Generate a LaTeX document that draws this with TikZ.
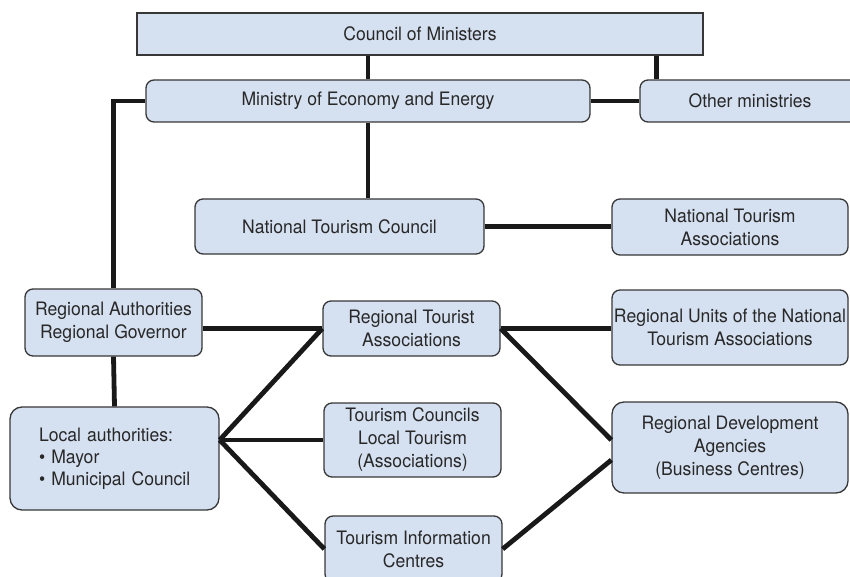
\documentclass[tikz,border=0pt]{standalone}
\usepackage{fontspec}
\setmainfont{TeX Gyre Heros}[FakeStretch=0.95]
\definecolor{boxfill}{RGB}{213,224,240}
\definecolor{boxline}{RGB}{55,55,55}
\definecolor{textgray}{RGB}{40,40,40}
\tikzset{
  box/.style={draw=boxline, line width=1.3pt, fill=boxfill, rounded corners=8pt,
    text=textgray, align=center, inner sep=0pt,
    font=\fontsize{18.5}{23}\selectfont},
  link/.style={line width=4.8pt, draw=black!90}
}
\begin{document}
\begin{tikzpicture}[x=1pt, y=-1pt]
				\useasboundingbox (0,0) rectangle (850,577);
				% boxes, top level
				\node[box, rounded corners=0pt, minimum width=566, minimum height=42] (council) at (420,34) {Council of Ministers};
				\node[box, minimum width=444, minimum height=42] (ministry) at (368,101) {Ministry of Economy and Energy};
				\node[box, minimum width=220, minimum height=42] (other) at (750,101) {Other ministries};
				
				% national level
				\node[box, minimum width=289, minimum height=55] (ntc) at (339.5,226.5) {National Tourism Council};
				\node[box, minimum width=236, minimum height=56] (nta) at (730,227) {National Tourism\\Associations};
				
				% regional level
				\node[box, minimum width=177, minimum height=67] (ra) at (113.5,322.5) {Regional Authorities\\Regional Governor};
				\node[box, minimum width=177, minimum height=55] (rta) at (411.5,328.5) {Regional Tourist\\Associations};
				\node[box, minimum width=236, minimum height=75] (ru) at (730,327.5) {Regional Units of the National\\Tourism Associations};
				
				% local level
				\node[box, rounded corners=12pt, minimum width=209, minimum height=103, text width=151, inner xsep=29, align=left, font=\fontsize{18.5}{22}\selectfont] (local) at (114.5,458.5) {\mbox{Local authorities:}\\\mbox{\textbullet\ Mayor}\\\mbox{\textbullet\ Municipal Council}};
				\node[box, minimum width=177, minimum height=74] (tc) at (412.5,440) {Tourism Councils\\Local Tourism\\(Associations)};
				\node[box, minimum width=177, minimum height=66] (tic) at (413.5,549) {Tourism Information\\Centres};
				\node[box, rounded corners=12pt, minimum width=236, minimum height=91] (rda) at (730,447.5) {Regional Development\\Agencies\\(Business Centres)};
				
				\coordinate (hub) at (local.east |- tc.west);
				\coordinate (oc) at ([xshift=17pt]other.north west);
				
				% connectors
				\draw[link] (ministry.north) -- (ministry.north |- council.south);
				\draw[link] (oc) -- (oc |- council.south);
				\draw[link] (ministry.east) -- (other.west);
				\draw[link] (ministry.west) -| (ra.north);
				\draw[link] (ministry.south) -- (ministry.south |- ntc.north);
				\draw[link] (ntc.east) -- (ntc.east -| nta.west);
				\draw[link] (rta.west -| ra.east) -- (rta.west);
				\draw[link] (rta.east) -- (rta.east -| ru.west);
				\draw[link] (ra.south) -- (local.north);
				\draw[link] (hub) -- (rta.west);
				\draw[link] (hub) -- (tc.west);
				\draw[link] (hub) -- (tic.west);
				\draw[link] (rta.east) -- ([yshift=7.5pt]rda.west);
				\draw[link] (tic.east) -- ([yshift=-12.5pt]rda.west);
			\end{tikzpicture}
\end{document}
